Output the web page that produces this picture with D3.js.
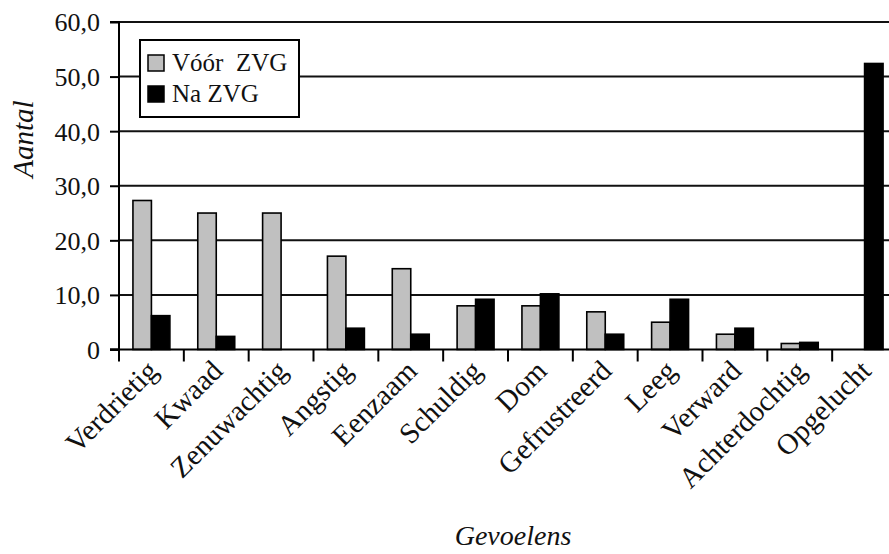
<!DOCTYPE html>
<html>
<head>
<meta charset="utf-8">
<script src="https://cdn.jsdelivr.net/npm/d3@7"></script>
<style>
  html, body { margin: 0; padding: 0; background: #fff; }
  svg { display: block; }
  text { font-family: "Liberation Serif", "DejaVu Serif", serif; fill: #111; }
</style>
</head>
<body>
<svg id="chart" width="889" height="554"></svg>
<script>
// Feelings before and after (ZVG)
const categories = ["Verdrietig", "Kwaad", "Zenuwachtig", "Angstig", "Eenzaam", "Schuldig",
                    "Dom", "Gefrustreerd", "Leeg", "Verward", "Achterdochtig", "Opgelucht"];
const seriesNames = ["Vóór  ZVG", "Na ZVG"];
const voorValues = [27.3, 25.0, 25.0, 17.1, 14.8, 8.0, 8.0, 6.9, 5.0, 2.8, 1.1, 0];
const naValues   = [6.2, 2.4, 0, 3.9, 2.8, 9.2, 10.2, 2.8, 9.2, 3.9, 1.3, 52.4];
const yTicks = [0, 10, 20, 30, 40, 50, 60];
const seriesColors = ["#c0c0c0", "#000000"];

const svg = d3.select("#chart");
const margin = { left: 119, right: -8, top: 22, bottom: 205 };
const W = 889, H = 554;
const plotLeft = margin.left, plotRight = W - margin.right;
const plotTop = margin.top, plotBottom = H - margin.bottom + 0.5;

const x = d3.scaleBand().domain(categories).range([plotLeft, plotRight]).padding(0);
const groupFrac = 0.57;
const x1 = d3.scaleBand().domain(seriesNames).range([0, x.bandwidth() * groupFrac]).padding(0);
const groupOffset = x.bandwidth() * (1 - groupFrac) / 2;
const y = d3.scaleLinear().domain([0, 60]).range([plotBottom, plotTop]);

// gridlines
svg.append("g").selectAll("line")
  .data(yTicks.filter(d => d > 0))
  .join("line")
  .attr("x1", plotLeft).attr("x2", plotRight)
  .attr("y1", d => y(d)).attr("y2", d => y(d))
  .attr("stroke", "#111").attr("stroke-width", 2);

// bars
const rows = categories.map((c, i) => ({ cat: c, vals: [voorValues[i], naValues[i]] }));
const groups = svg.append("g").selectAll("g")
  .data(rows).join("g")
  .attr("transform", d => `translate(${x(d.cat) + groupOffset},0)`);
groups.selectAll("rect")
  .data(d => d.vals.map((v, j) => ({ v, s: seriesNames[j], j })).filter(e => e.v > 0))
  .join("rect")
  .attr("x", d => x1(d.s))
  .attr("width", x1.bandwidth())
  .attr("y", d => y(d.v))
  .attr("height", d => y(0) - y(d.v))
  .attr("fill", d => seriesColors[d.j])
  .attr("stroke", "#000").attr("stroke-width", 1.6);

// y axis
const yAxis = d3.axisLeft(y).tickValues(yTicks).tickSize(9).tickPadding(10)
  .tickFormat(d => d === 0 ? "0" : d.toFixed(1).replace(".", ","));
const gy = svg.append("g").attr("transform", `translate(${plotLeft},0)`).call(yAxis);
gy.select(".domain").attr("stroke", "#000").attr("stroke-width", 2).attr("d", `M-9,${plotBottom}H0V${plotTop}H-9`);
gy.selectAll(".tick line").attr("stroke", "#000").attr("stroke-width", 2);
gy.selectAll(".tick text").style("font-size", "26px").attr("dy", "0.34em").attr("fill", "#111");

// x axis: baseline, boundary ticks, rotated labels
svg.append("line")
  .attr("x1", plotLeft - 9).attr("x2", plotRight)
  .attr("y1", plotBottom).attr("y2", plotBottom)
  .attr("stroke", "#000").attr("stroke-width", 2);
const boundaries = categories.map(c => x(c)).concat([x(categories[categories.length - 1]) + x.bandwidth()]);
svg.append("g").selectAll("line")
  .data(boundaries).join("line")
  .attr("x1", d => d).attr("x2", d => d)
  .attr("y1", plotBottom).attr("y2", plotBottom + 12)
  .attr("stroke", "#000").attr("stroke-width", 2);
svg.append("g").selectAll("text")
  .data(categories).join("text")
  .attr("transform", d => `translate(${x(d) + x.bandwidth() / 2 + 8},${plotBottom + 23}) rotate(-45)`)
  .attr("text-anchor", "end")
  .style("font-size", "29px")
  .text(d => d);

// axis titles
svg.append("text")
  .attr("transform", `translate(33,139) rotate(-90)`)
  .attr("text-anchor", "middle")
  .style("font-size", "29px").style("font-style", "italic")
  .text("Aantal");
svg.append("text")
  .attr("x", 513).attr("y", 545)
  .attr("text-anchor", "middle")
  .style("font-size", "28px").style("font-style", "italic")
  .text("Gevoelens");

// legend
const lg = svg.append("g").attr("transform", "translate(140,40)");
lg.append("rect").attr("width", 159).attr("height", 77)
  .attr("fill", "#fff").attr("stroke", "#000").attr("stroke-width", 2);
seriesNames.forEach((name, i) => {
  lg.append("rect")
    .attr("x", 8).attr("y", 15 + i * 31).attr("width", 16).attr("height", 16)
    .attr("fill", seriesColors[i]).attr("stroke", "#000").attr("stroke-width", 1.5);
  lg.append("text")
    .attr("x", 32).attr("y", 31 + i * 31)
    .style("font-size", "25px").style("white-space", "pre")
    .text(name);
});
</script>
</body>
</html>
